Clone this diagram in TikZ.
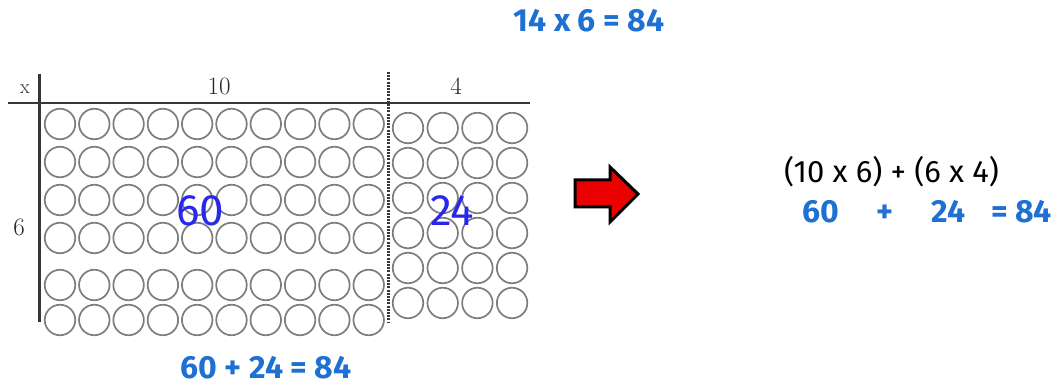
\documentclass[tikz,border=0pt]{standalone}
\usepackage{fontspec}
\setmainfont{Fira Sans}
\newfontfamily\labfont{Latin Modern Roman}
\definecolor{eqblue}{RGB}{30,112,210}
\definecolor{penblue}{RGB}{40,40,235}
\definecolor{ringgray}{RGB}{125,125,125}
\definecolor{axisgray}{RGB}{55,55,55}
\definecolor{labgray}{RGB}{40,40,40}
\definecolor{arrowred}{RGB}{235,0,0}
\begin{document}
\begin{tikzpicture}[x=1pt,y=-1pt,
  ring/.style={circle,draw=ringgray,line width=1.7pt,minimum size=30.5pt,inner sep=0pt},
  axis/.style={line width=2.8pt,draw=axisgray},
  lab/.style={font=\labfont\fontsize{25}{25}\selectfont,inner sep=0pt,text=labgray},
  pen/.style={font=\fontsize{44}{44}\selectfont,text=penblue,inner sep=0pt},
  eq/.style={font=\bfseries\fontsize{32}{32}\selectfont,text=eqblue,inner sep=0pt,anchor=base},
  eqb/.style={font=\fontsize{31}{31}\selectfont,text=black,inner sep=0pt,anchor=base}]
\useasboundingbox (0,0) rectangle (1058,387);
% circles left block
\foreach \r/\y in {1/124,2/162,3/200,4/238,5/285,6/320}{
  \foreach \c in {0,...,9}{
    \node[ring] (L-\r-\c) at ({60+34.3*\c},\y) {};
  }
}
% circles right block
\foreach \r in {0,...,5}{
  \foreach \c in {0,...,3}{
    \node[ring] (R-\r-\c) at ({408+34.7*\c},{128+35*\r}) {};
  }
}
% axes
\coordinate (hl) at (8,103);
\coordinate (hr) at (530,103);
\coordinate (vt) at (39.5,74);
\coordinate (vb) at (39.5,322);
\coordinate (dt) at (388,72);
\coordinate (db) at (388,322);
\draw[axis] (hl) -- (hr);
\draw[axis] (vt) -- (vb);
\draw[line width=3pt,draw=axisgray,dash pattern=on 2pt off 1.2pt] (dt) -- (db);
% labels
\node[lab,font=\labfont\fontsize{20}{20}\selectfont] (lx) at (25,89) {x};
\node[lab] (l10) at (219,86) {10};
\node[lab] (l4) at (456,86) {4};
\node[lab] (l6) at (19,227) {6};
\node[pen] (p60) at (200,211) {60};
\node[pen] (p24) at (452,211) {24};
% arrow
\draw[line width=3pt,fill=arrowred,line join=miter] (575,180) -- (610,180) -- (610,167) -- (638,194) -- (610,222) -- (610,207) -- (575,207) -- cycle;
% equations
\node[eq] (top) at (589,32) {14 x 6 = 84};
\node[eq] (bot) at (266,378) {60 + 24 = 84};
\node[eqb] (rb) at (891.5,183) {(10 x 6) + (6 x 4)};
\node[eq] (r60) at (820.5,223) {60};
\node[eq] (rplus) at (885,223) {+};
\node[eq] (r24) at (948.5,223) {24};
\node[eq] (req) at (1021.5,223) {= 84};
\end{tikzpicture}
\end{document}
